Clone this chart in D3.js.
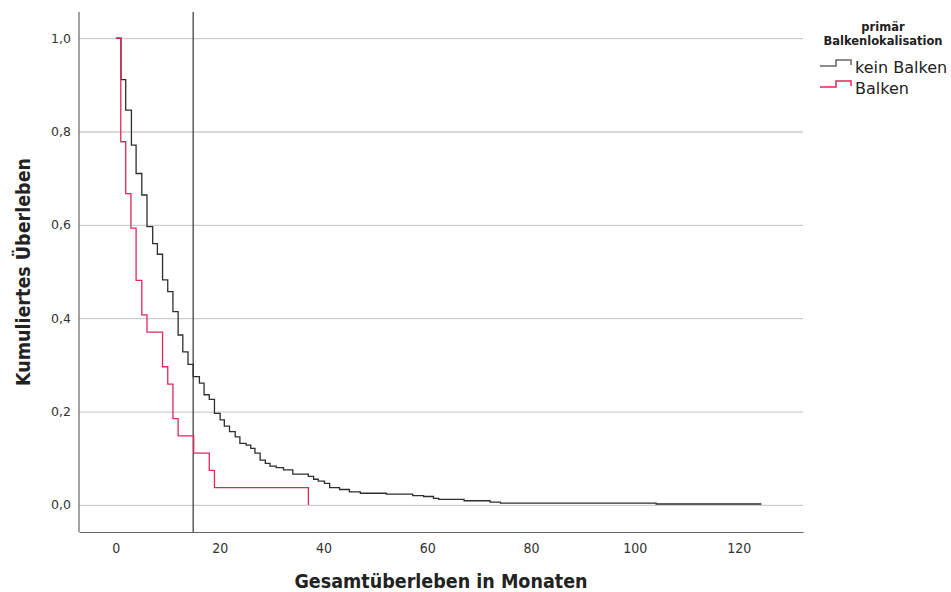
<!DOCTYPE html>
<html>
<head>
<meta charset="utf-8">
<script src="https://cdn.jsdelivr.net/npm/d3@7"></script>
<style>
  body { margin: 0; background: #fff; }
  svg { display: block; }
  .cond { font-family: "DejaVu Sans Condensed", "DejaVu Sans", sans-serif; font-stretch: condensed; }
</style>
</head>
<body>
<svg id="chart" width="951" height="592"></svg>
<script>
// Kaplan-Meier steps: [months, survival after the event]
var keinBalken = [
  [0, 1.0], [1.0, 0.911], [1.9, 0.846], [3.0, 0.771], [3.9, 0.710], [5.0, 0.664],
  [6.0, 0.596], [7.1, 0.560], [8.0, 0.537], [9.0, 0.482], [10.0, 0.457], [11.0, 0.414],
  [12.0, 0.364], [12.9, 0.328], [13.9, 0.301], [14.9, 0.275], [16.1, 0.261], [17.0, 0.236],
  [18.0, 0.226], [19.0, 0.196], [20.1, 0.182], [20.9, 0.169], [21.9, 0.157], [23.0, 0.146],
  [23.9, 0.132], [25.1, 0.128], [26.0, 0.121], [26.8, 0.111], [27.8, 0.096], [28.8, 0.089],
  [29.7, 0.083], [30.9, 0.080], [32.3, 0.075], [34.1, 0.066], [37.1, 0.061], [38.1, 0.055],
  [39.0, 0.051], [40.2, 0.046], [41.2, 0.037], [43.1, 0.033], [45.0, 0.028], [47.1, 0.025],
  [52.1, 0.023], [57.2, 0.020], [59.3, 0.018], [61.2, 0.014], [62.2, 0.012], [67.1, 0.009],
  [72.1, 0.006], [74.1, 0.004], [104.1, 0.002], [124.4, 0.002]
];
var balken = [
  [0, 1.0], [0.95, 0.778], [1.9, 0.667], [2.9, 0.593], [3.9, 0.481], [5.0, 0.407],
  [6.0, 0.370], [9.0, 0.296], [10.0, 0.259], [11.0, 0.185], [12.0, 0.148], [15.0, 0.111],
  [18.0, 0.074], [19.0, 0.037], [37.1, 0.0]
];
var medianLine = 14.9;
var xTicks = [0, 20, 40, 60, 80, 100, 120];
var yTicks = [0, 0.2, 0.4, 0.6, 0.8, 1.0];
var groups = ["kein Balken", "Balken"];
var colors = ["#2e2e2e", "#e0285a"];

(function() {
  var pLeft = 79, pRight = 803, pTop = 12, pBottom = 532;

  var svg = d3.select('#chart');

  var x = d3.scaleLinear().domain([-7.1, 132.4]).range([pLeft, pRight]);
  var y = d3.scaleLinear().domain([-0.058, 1.056]).range([pBottom, pTop]);

  var de = d3.formatLocale({ decimal: ',', thousands: '.', grouping: [3], currency: ['', '€'] });

  // horizontal grid + y labels
  var yAxis = svg.append('g')
    .attr('transform', 'translate(' + pLeft + ',0)')
    .call(d3.axisLeft(y).tickValues(yTicks).tickFormat(de.format('.1f'))
      .tickSize(-(pRight - pLeft)).tickPadding(8));
  yAxis.select('.domain').remove();
  yAxis.selectAll('.tick line').attr('stroke', '#cdcdcd').attr('stroke-width', 1.3);
  yAxis.selectAll('.tick text')
    .attr('font-family', 'DejaVu Sans, sans-serif').attr('font-size', 12.5).attr('fill', '#333');

  // x axis
  var xAxis = svg.append('g')
    .attr('transform', 'translate(0,' + pBottom + ')')
    .call(d3.axisBottom(x).tickValues(xTicks).tickSize(0).tickPadding(11));
  xAxis.select('.domain').attr('stroke', '#666').attr('stroke-width', 1.2);
  xAxis.selectAll('.tick text')
    .attr('font-family', null).attr('class', 'cond')
    .attr('font-size', 14).attr('fill', '#333');

  // left axis line
  svg.append('line')
    .attr('x1', pLeft).attr('x2', pLeft).attr('y1', pTop).attr('y2', pBottom)
    .attr('stroke', '#666').attr('stroke-width', 1.2);

  // reference line
  svg.append('line')
    .attr('x1', x(medianLine)).attr('x2', x(medianLine)).attr('y1', pTop).attr('y2', pBottom)
    .attr('stroke', '#444').attr('stroke-width', 1.3);

  var line = d3.line()
    .x(function(d) { return x(d[0]); })
    .y(function(d) { return y(d[1]); })
    .curve(d3.curveStepAfter);

  [keinBalken, balken].forEach(function(data, i) {
    svg.append('path')
      .datum(data)
      .attr('d', line)
      .attr('fill', 'none')
      .attr('stroke', colors[i])
      .attr('stroke-width', 1.3);
  });

  // axis titles
  svg.append('text')
    .attr('class', 'cond')
    .attr('x', (pLeft + pRight) / 2).attr('y', 588)
    .attr('text-anchor', 'middle')
    .attr('font-weight', 'bold')
    .attr('font-size', 19.5).attr('fill', '#222')
    .text('Gesamtüberleben in Monaten');

  svg.append('text')
    .attr('class', 'cond')
    .attr('transform', 'translate(30,' + (pTop + pBottom) / 2 + ') rotate(-90)')
    .attr('text-anchor', 'middle')
    .attr('font-weight', 'bold')
    .attr('font-size', 19.5).attr('fill', '#222')
    .text('Kumuliertes Überleben');

  // legend
  var legend = svg.append('g');
  legend.append('text')
    .attr('x', 883).attr('y', 31).attr('text-anchor', 'middle')
    .attr('font-family', 'DejaVu Sans, sans-serif').attr('font-weight', 'bold')
    .attr('font-size', 11.5).attr('fill', '#222')
    .text('primär');
  legend.append('text')
    .attr('x', 883).attr('y', 45).attr('text-anchor', 'middle')
    .attr('font-family', 'DejaVu Sans, sans-serif').attr('font-weight', 'bold')
    .attr('font-size', 11.5).attr('fill', '#222')
    .text('Balkenlokalisation');

  var stepIcon = d3.line()([[820, 6], [836, 6], [836, 0], [851, 0], [851, 5]]);
  groups.forEach(function(g, i) {
    var gy = 60 + i * 21;
    legend.append('path')
      .attr('transform', 'translate(0,' + gy + ')')
      .attr('d', stepIcon)
      .attr('fill', 'none')
      .attr('stroke', i === 0 ? '#666' : colors[1])
      .attr('stroke-width', 1.5);
    legend.append('text')
      .attr('x', 855).attr('y', gy + 13)
      .attr('font-family', 'DejaVu Sans, sans-serif')
      .attr('font-size', 16).attr('fill', '#222')
      .text(g);
  });
})();
</script>
</body>
</html>
